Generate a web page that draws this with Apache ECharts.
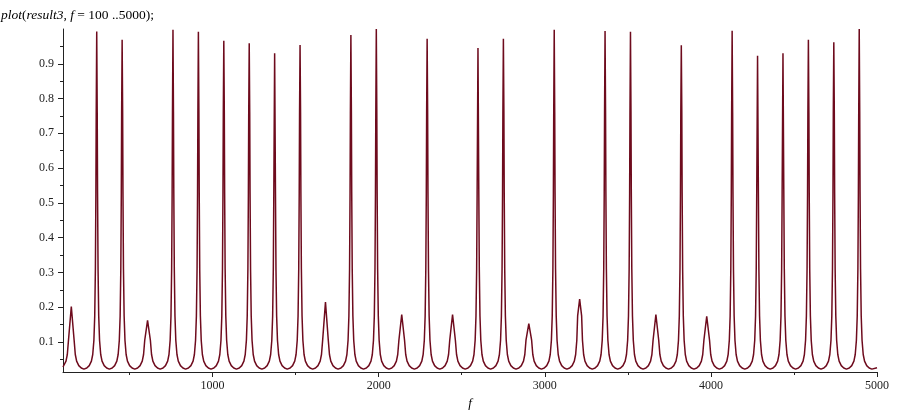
<!DOCTYPE html>
<html>
<head>
<meta charset="utf-8">
<title>plot(result3)</title>
<script src="https://cdn.jsdelivr.net/npm/echarts@6/dist/echarts.min.js"></script>
<style>
  html, body { margin: 0; padding: 0; background: #fff; }
  #chart { width: 900px; height: 411px; }
</style>
</head>
<body>
<div id="chart"></div>
<script>
// peak positions (f) and the height each peak reaches in the plot
const peakFreq = [150, 303, 456, 609, 762, 915, 1068, 1221, 1374, 1527, 1680, 1833, 1986, 2139, 2292, 2445,
  2598, 2751, 2904, 3057, 3210, 3363, 3516, 3669, 3822, 3975, 4128, 4281, 4434, 4587, 4740, 4893];
const peakHeight = [0.202, 0.993, 0.969, 0.162, 0.998, 0.992, 0.966, 0.959, 0.930, 0.954, 0.215, 0.983, 1.0, 0.179, 0.972, 0.179,
  0.945, 0.972, 0.153, 0.998, 0.223, 0.994, 0.992, 0.179, 0.953, 0.174, 0.995, 0.923, 0.930, 0.969, 0.962, 1.0];

// flank of a peak: distance from the peak centre (in f) and the value there
const flankOffset = [3, 5, 8, 12, 17, 24, 32, 45, 60, 76];
const flankValue = [0.76, 0.53, 0.31, 0.175, 0.105, 0.064, 0.045, 0.032, 0.025, 0.022];

const curveStart = [100, 0.028];
const curveEnd = [5000, 0.026];

// tick labels
const xLabels = [1000, 2000, 3000, 4000, 5000];
const xMinorTicks = [500, 1500, 2500, 3500, 4500];
const yLabels = [0.1, 0.2, 0.3, 0.4, 0.5, 0.6, 0.7, 0.8, 0.9];
const yMinorTicks = [0.05, 0.15, 0.25, 0.35, 0.45, 0.55, 0.65, 0.75, 0.85, 0.95];

// put the flanks around every peak; the short peaks only keep the lower part
const points = [curveStart];
peakFreq.forEach((c, i) => {
  const h = peakHeight[i];
  for (let j = flankOffset.length - 1; j >= 0; j--) {
    if (flankValue[j] < h * 0.8 && c - flankOffset[j] > curveStart[0]) points.push([c - flankOffset[j], flankValue[j]]);
  }
  points.push([c, h]);
  for (let j = 0; j < flankOffset.length; j++) {
    if (flankValue[j] < h * 0.8) points.push([c + flankOffset[j], flankValue[j]]);
  }
});
points.push(curveEnd);

const serif = 'Liberation Serif';
const axisColor = '#222';

const chart = echarts.init(document.getElementById('chart'));

const option = {
  animation: false,
  backgroundColor: '#fff',
  title: {
    text: '{i|plot}({i|result3}, {i|f} = 100 ..5000);',
    left: 1,
    top: 8,
    padding: 0,
    textStyle: {
      fontFamily: serif,
      fontSize: 13.5,
      fontWeight: 'normal',
      color: '#000',
      rich: {
        i: { fontFamily: serif, fontSize: 13.5, fontStyle: 'italic', color: '#000' }
      }
    }
  },
  grid: { left: 63, right: 23, top: 29, bottom: 39, containLabel: false, outerBoundsMode: 'none' },
  xAxis: [
    {
      type: 'value',
      min: 100,
      max: 5000,
      name: 'f',
      nameLocation: 'middle',
      nameGap: 23,
      nameTextStyle: { fontFamily: serif, fontStyle: 'italic', fontSize: 13, color: '#000' },
      axisLine: { lineStyle: { color: axisColor, width: 1 } },
      axisTick: { customValues: xLabels, length: 5, lineStyle: { color: axisColor } },
      axisLabel: {
        customValues: xLabels,
        margin: 8,
        fontFamily: serif,
        fontSize: 12,
        color: '#222',
        formatter: function (value) {
          return String(value);
        }
      },
      splitLine: { show: false }
    },
    {
      type: 'value',
      min: 100,
      max: 5000,
      position: 'bottom',
      axisLine: { show: false },
      axisTick: { customValues: xMinorTicks, length: 3, lineStyle: { color: axisColor } },
      axisLabel: { show: false },
      splitLine: { show: false }
    }
  ],
  yAxis: [
    {
      type: 'value',
      min: 0.0137,
      max: 1.0,
      axisLine: { show: true, lineStyle: { color: axisColor, width: 1 } },
      axisTick: { show: true, customValues: yLabels, length: 5, lineStyle: { color: axisColor } },
      axisLabel: {
        customValues: yLabels,
        margin: 9,
        fontFamily: serif,
        fontSize: 12,
        color: '#222',
        formatter: function (value) {
          return value.toFixed(1);
        }
      },
      splitLine: { show: false }
    },
    {
      type: 'value',
      min: 0.0137,
      max: 1.0,
      position: 'left',
      axisLine: { show: false },
      axisTick: { show: true, customValues: yMinorTicks, length: 3, lineStyle: { color: axisColor } },
      axisLabel: { show: false },
      splitLine: { show: false }
    }
  ],
  series: [
    {
      name: 'result3',
      type: 'line',
      data: points,
      showSymbol: false,
      smooth: false,
      clip: true,
      lineStyle: { color: '#6e0b1d', width: 1.5 }
    }
  ]
};

chart.setOption(option);
</script>
</body>
</html>
